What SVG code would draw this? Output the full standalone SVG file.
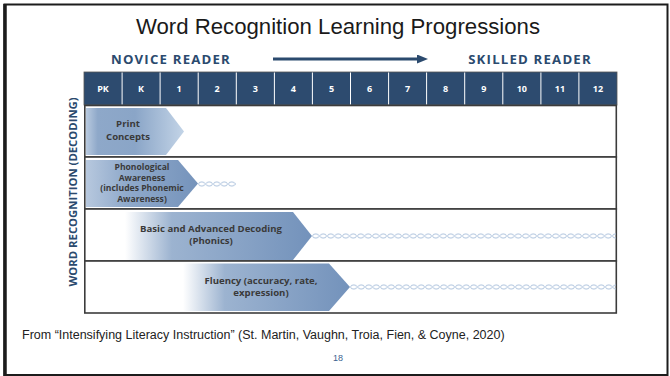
<svg xmlns="http://www.w3.org/2000/svg" width="670" height="376" viewBox="0 0 670 376">
  <style>
    .title { font-family: "Liberation Sans", Arial, sans-serif; font-size: 22.2px; fill: #1a1a1a; }
    .axis { font-family: "Open Sans", "DejaVu Sans", sans-serif; font-weight: bold; font-size: 13.2px; letter-spacing: 1.2px; fill: #2b4a6e; }
    .vaxis { font-family: "Open Sans", "DejaVu Sans", sans-serif; font-weight: bold; font-size: 11.3px; fill: #2b4a6e; }
    .head { font-family: "Open Sans", "DejaVu Sans", sans-serif; font-weight: bold; font-size: 9px; fill: #ffffff; text-anchor: middle; }
    .lbl { font-family: "Open Sans", "DejaVu Sans", sans-serif; font-weight: bold; font-size: 9.6px; fill: #3a3a3a; text-anchor: middle; }
    .lbl-sm { font-family: "Open Sans", "DejaVu Sans", sans-serif; font-weight: bold; font-size: 8.6px; fill: #3a3a3a; text-anchor: middle; }
    .src { font-family: "Liberation Sans", Arial, sans-serif; font-size: 12.5px; fill: #222222; }
    .pg { font-family: "Liberation Sans", Arial, sans-serif; font-size: 9px; fill: #3d5f8f; text-anchor: middle; }
    .rowline { fill: #ffffff; stroke: #3c3c3c; stroke-width: 1.6; }
    .chain { fill: url(#chainPat); }
  </style>
  <defs>
    <linearGradient id="gPrint" x1="0" y1="0" x2="1" y2="0">
      <stop offset="0" stop-color="#b9cadf"/>
      <stop offset="0.12" stop-color="#8ea8c9"/>
      <stop offset="0.5" stop-color="#8aa5c7"/>
      <stop offset="1" stop-color="#c3d4e7"/>
    </linearGradient>
    <linearGradient id="gPhono" x1="0" y1="0" x2="1" y2="0">
      <stop offset="0" stop-color="#b7c8de"/>
      <stop offset="0.35" stop-color="#90aacb"/>
      <stop offset="1" stop-color="#7593bb"/>
    </linearGradient>
    <linearGradient id="gFade" x1="0" y1="0" x2="1" y2="0">
      <stop offset="0" stop-color="#ffffff"/>
      <stop offset="0.25" stop-color="#9cb3d0"/>
      <stop offset="1" stop-color="#7392bb"/>
    </linearGradient>
    <pattern id="chainPat" patternUnits="userSpaceOnUse" x="0" y="0" width="7.5" height="6">
      <ellipse cx="3.75" cy="3" rx="3.2" ry="2.1" fill="none" stroke="#a9c0dc" stroke-width="0.9"/>
    </pattern>
    <marker id="arrowHead" markerWidth="11" markerHeight="9" refX="1" refY="4.5" orient="auto" markerUnits="userSpaceOnUse">
      <path d="M0,0 L11,4.5 L0,9 Z" fill="#2b4a6e"/>
    </marker>
  </defs>

  <!-- slide frame -->
  <rect x="0" y="0" width="670" height="376" fill="#ffffff"/>
  <rect x="4.5" y="4.5" width="663" height="370.5" fill="none" stroke="#1c1c1c" stroke-width="2"/>
  <line x1="5" y1="4" x2="5" y2="376" stroke="#1c1c1c" stroke-width="3.5"/>

  <text class="title" x="338" y="34" text-anchor="middle">Word Recognition Learning Progressions</text>

  <!-- direction banner -->
  <g id="direction">
    <text class="axis" x="171" y="64" text-anchor="middle">NOVICE READER</text>
    <text class="axis" x="530" y="64" text-anchor="middle">SKILLED READER</text>
  </g>

  <!-- vertical axis label -->
  <text class="vaxis" transform="translate(77,192) rotate(-90)" text-anchor="middle">WORD RECOGNITION (DECODING)</text>

  <!-- grade header -->
  <g id="grade-header">
    <rect x="84" y="72" width="533" height="33" fill="#2d4b6f" stroke="#555" stroke-width="0.8"/>
    <g stroke="#ffffff" stroke-width="1">
      <line x1="122.1" y1="72.5" x2="122.1" y2="104.5"/>
      <line x1="160.1" y1="72.5" x2="160.1" y2="104.5"/>
      <line x1="198.2" y1="72.5" x2="198.2" y2="104.5"/>
      <line x1="236.3" y1="72.5" x2="236.3" y2="104.5"/>
      <line x1="274.4" y1="72.5" x2="274.4" y2="104.5"/>
      <line x1="312.4" y1="72.5" x2="312.4" y2="104.5"/>
      <line x1="350.5" y1="72.5" x2="350.5" y2="104.5"/>
      <line x1="388.6" y1="72.5" x2="388.6" y2="104.5"/>
      <line x1="426.6" y1="72.5" x2="426.6" y2="104.5"/>
      <line x1="464.7" y1="72.5" x2="464.7" y2="104.5"/>
      <line x1="502.8" y1="72.5" x2="502.8" y2="104.5"/>
      <line x1="540.9" y1="72.5" x2="540.9" y2="104.5"/>
      <line x1="578.9" y1="72.5" x2="578.9" y2="104.5"/>
    </g>
    <g>
      <text class="head" x="103" y="92">PK</text>
      <text class="head" x="141.1" y="92">K</text>
      <text class="head" x="179.2" y="92">1</text>
      <text class="head" x="217.2" y="92">2</text>
      <text class="head" x="255.3" y="92">3</text>
      <text class="head" x="293.4" y="92">4</text>
      <text class="head" x="331.5" y="92">5</text>
      <text class="head" x="369.5" y="92">6</text>
      <text class="head" x="407.6" y="92">7</text>
      <text class="head" x="445.7" y="92">8</text>
      <text class="head" x="483.8" y="92">9</text>
      <text class="head" x="521.8" y="92">10</text>
      <text class="head" x="559.9" y="92">11</text>
      <text class="head" x="598" y="92">12</text>
    </g>
  </g>

  <!-- row panels -->
  <g id="rows">
    <rect class="rowline" x="84.8" y="105.5" width="531.5" height="51.5"/>
    <rect class="rowline" x="84.8" y="157" width="531.5" height="52"/>
    <rect class="rowline" x="84.8" y="209" width="531.5" height="52"/>
    <rect class="rowline" x="84.8" y="261" width="531.5" height="52"/>
  </g>

  <!-- continuation chains and progression arrow -->
  <g id="connectors">
    <g transform="translate(198,181)"><rect class="chain" x="0" y="0" width="38" height="6"/></g>
    <g transform="translate(312,233)"><rect class="chain" x="0" y="0" width="304" height="6"/></g>
    <g transform="translate(350,284)"><rect class="chain" x="0" y="0" width="266" height="6"/></g>
    <line x1="273" y1="59" x2="418" y2="59" stroke="#2b4a6e" stroke-width="3" marker-end="url(#arrowHead)"/>
  </g>

  <g id="print-concepts">
    <polygon points="86,108 166,108 184,131.5 166,155 86,155" fill="url(#gPrint)"/>
    <text class="lbl" x="128" y="127" font-size="9.2">Print</text>
    <text class="lbl" x="128" y="140" font-size="9.2">Concepts</text>
  </g>

  <g id="phonological-awareness">
    <polygon points="86,160 178,160 198,183.5 178,207 86,207" fill="url(#gPhono)"/>
    <text class="lbl-sm" x="142" y="170">Phonological</text>
    <text class="lbl-sm" x="142" y="180.5">Awareness</text>
    <text class="lbl-sm" x="142" y="191">(includes Phonemic</text>
    <text class="lbl-sm" x="142" y="201.5">Awareness)</text>
  </g>

  <g id="decoding">
    <polygon points="125,212 293,212 312,236 293,260 125,260" fill="url(#gFade)"/>
    <text class="lbl" x="211" y="231.5">Basic and Advanced Decoding</text>
    <text class="lbl" x="211" y="244">(Phonics)</text>
  </g>

  <g id="fluency">
    <polygon points="183,263.5 329,263.5 350,287 329,311 183,311" fill="url(#gFade)"/>
    <text class="lbl" x="261" y="283.5">Fluency (accuracy, rate,</text>
    <text class="lbl" x="261" y="296">expression)</text>
  </g>

  <text class="src" x="22" y="339">From “Intensifying Literacy Instruction” (St. Martin, Vaughn, Troia, Fien, &amp; Coyne, 2020)</text>
  <text class="pg" x="338" y="361">18</text>
</svg>
